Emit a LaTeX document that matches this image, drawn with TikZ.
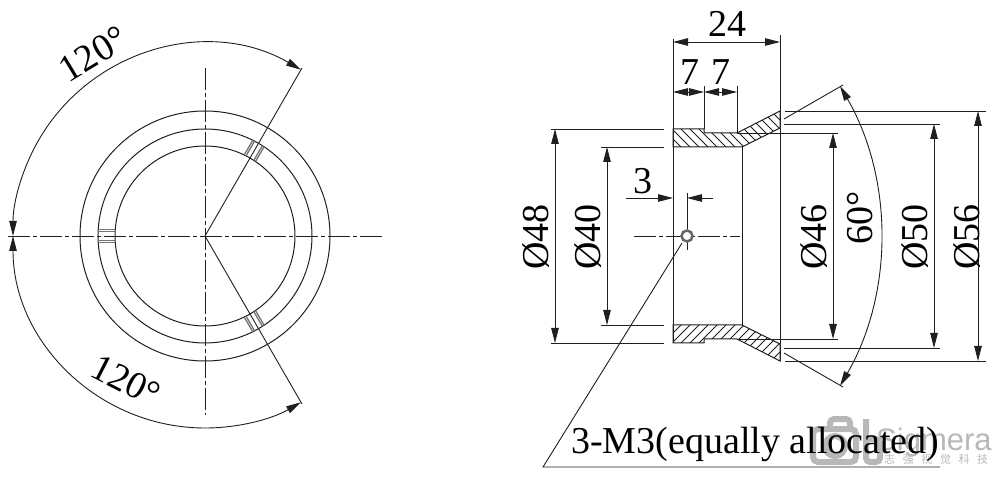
\documentclass[tikz,border=0pt]{standalone}
\usepackage{fontspec}
\setmainfont{Liberation Serif}
\setsansfont{Liberation Sans}
\newfontfamily\cjk{Noto Sans CJK SC}
\usetikzlibrary{arrows.meta}
\definecolor{inkline}{gray}{0.12}
\definecolor{markgray}{gray}{0.72}
\tikzset{
  drawline/.style={line width=1pt, draw=inkline},
  thinline/.style={line width=0.9pt, draw=inkline},
  hatchline/.style={line width=0.8pt, draw=inkline},
  centerline/.style={line width=0.9pt, draw=inkline, dash pattern=on 22pt off 3pt on 4pt off 3pt},
  dimline/.style={line width=0.9pt, draw=inkline, >={Stealth[length=15pt,width=7.5pt,inset=0pt]}},
  slotline/.style={line width=1.3pt, draw=black!55},
  dimtext/.style={font=\fontsize{38}{38}\selectfont, text=black, inner sep=0pt},
  marktext/.style={font=\sffamily\fontsize{31}{31}\selectfont, text=markgray, inner sep=0pt}
}
\begin{document}
\begin{tikzpicture}[x=1pt, y=1pt]

  \useasboundingbox (0,0) rectangle (1000,479);

  % axis of the picture
  \newcommand\AY{243}
  \newcommand\HX{687}

  % watermark sits under everything
  \draw[line width=6pt, draw=markgray, rounded corners=5pt] (813,17) rectangle (856,50);
  \draw[line width=6pt, draw=markgray, rounded corners=4pt] (830,50) -- (830,60) -- (850,60) -- (850,50);
  \draw[line width=6pt, draw=markgray] (835,33) circle[radius=10];
  \draw[line width=6pt, draw=markgray, rounded corners=4pt] (866,60) -- (866,17) -- (880,17) -- (880,40) -- (866,40);
  \node[marktext, anchor=base west] (marklogo) at (876,29) {Sigmera};
  \node[font=\cjk\fontsize{11}{11}\selectfont, text=markgray, anchor=base west, inner sep=0pt] (markcn) at (884,16) {志\hspace{7.6pt}强\hspace{7.6pt}视\hspace{7.6pt}觉\hspace{7.6pt}科\hspace{7.6pt}技};

  % front view
  \begin{scope}[shift={(205,\AY)}]
    \draw[centerline] (-197,0) -- (177,0);
    \draw[centerline] (0,168) -- (0,-179);
    \foreach \R in {90,107,125}
      \draw[drawline] (0,0) circle[radius=\R];
    \foreach \A in {60,180,300}
      \foreach \S in {-6.5,-4.5,4.5,6.5}
        \draw[slotline, rotate=\A] (90,\S) -- (107,\S);
    \draw[thinline] (0,0) -- (60:194);
    \draw[thinline] (0,0) -- (-60:194);
    \draw[dimline, <->] (60:192) arc[start angle=60, end angle=180, radius=192];
    \draw[dimline, <->] (180:192) arc[start angle=180, end angle=300, radius=192];
    \node[dimtext, rotate=31] (upperangle) at (-112,182) {120°};
    \node[dimtext, rotate=-27] (lowerangle) at (-79,-145) {120°};
  \end{scope}

  % section, upper and lower half
  \foreach \SG in {1,-1} {
    \begin{scope}[shift={(0,\AY)}, yscale=\SG]
      \begin{scope}
        \clip (673,107) -- (704,107) -- (704,103) -- (737,103) -- (780,125)
        -- (780,108) -- (742,89) -- (673,89) -- cycle;
        \foreach \H in {640,649,...,790}
          \draw[hatchline] (\H,130) -- (\H+50,80);
      \end{scope}
      \draw[drawline] (673,107) -- (704,107) -- (704,103) -- (737,103) -- (780,125)
      -- (780,108) -- (742,89) -- (673,89) -- cycle;
      \draw[thinline] (551,107) -- (664,107);
      \draw[thinline] (601,89) -- (664,89);
      \draw[thinline] (737,103) -- (838,103);
      \draw[thinline] (784,112) -- (940,112);
      \draw[thinline] (785,125) -- (986,125);
      \draw[thinline] (784,117) -- (843,151);
    \end{scope}
  }
  \draw[drawline] (673,\AY+197) -- (673,\AY-107);
  \draw[drawline] (780,\AY+201) -- (780,\AY-125);
  \draw[drawline] (742,\AY+89) -- (742,\AY-89);
  \draw[thinline] (704,\AY+150) -- (704,\AY+107);
  \draw[thinline] (737,\AY+150) -- (737,\AY+103);

  % top dimensions
  \draw[dimline, <->] (673,437) -- (780,437);
  \node[dimtext] (widthall) at (727,455) {24};
  \draw[dimline, <->] (673,387) -- (704,387);
  \draw[dimline, <->] (704,387) -- (737,387);
  \node[dimtext] (stepa) at (690,407) {7};
  \node[dimtext] (stepb) at (721,407) {7};

  % diameters
  \draw[dimline, <->] (555,\AY+107) -- (555,\AY-107);
  \draw[dimline, <->] (607,\AY+89) -- (607,\AY-89);
  \draw[dimline, <->] (833,\AY+103) -- (833,\AY-103);
  \draw[dimline, <->] (934,\AY+112) -- (934,\AY-112);
  \draw[dimline, <->] (978,\AY+125) -- (978,\AY-125);
  \node[dimtext, rotate=90] (dia48) at (536,\AY-1) {Ø48};
  \node[dimtext, rotate=90] (dia40) at (588,\AY-1) {Ø40};
  \node[dimtext, rotate=90] (dia46) at (814,\AY-1) {Ø46};
  \node[dimtext, rotate=90] (dia50) at (915,\AY-1) {Ø50};
  \node[dimtext, rotate=90] (dia56) at (967,\AY-1) {Ø56};

  % opening angle
  \draw[dimline, <->] (840,\AY+150) arc[start angle=30, end angle=-30, radius=300];
  \node[dimtext, rotate=90] (angle60) at (860,\AY+18) {60°};

  % threaded hole
  \draw[centerline] (634,\AY) -- (740,\AY);
  \draw[thinline] (\HX,286) -- (\HX,272);
  \draw[centerline] (\HX,272) -- (\HX,\AY-14);
  \draw[line width=2.5pt, draw=black!60, fill=white] (\HX,\AY) circle[radius=5.5];
  \draw[dimline, ->] (626,281) -- (673,281);
  \draw[dimline, ->] (713,281) -- (\HX,281);
  \node[dimtext] (pitch) at (643,298) {3};

  % callout
  \draw[thinline] (\HX-5,\AY-7) -- (543,12) -- (940,12);
  \node[dimtext, anchor=base west] (callout) at (571,26) {3-M3(equally allocated)};

\end{tikzpicture}
\end{document}
